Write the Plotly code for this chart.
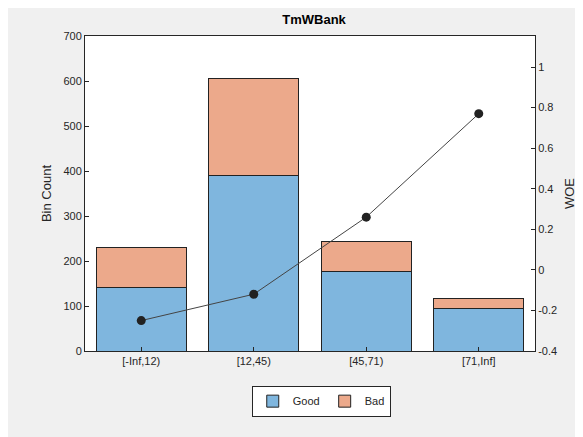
import plotly.graph_objects as go

bins = ["[-Inf,12)", "[12,45)", "[45,71)", "[71,Inf]"]
good = [141, 389, 176, 94]
bad = [90, 216, 67, 23]
woe = [-0.25, -0.12, 0.26, 0.77]

fig = go.Figure()
fig.add_trace(go.Bar(x=bins, y=good, name="Good", width=0.8,
                     marker=dict(color="#7fb6de", line=dict(color="#222", width=1))))
fig.add_trace(go.Bar(x=bins, y=bad, name="Bad", width=0.8,
                     marker=dict(color="#eca98b", line=dict(color="#222", width=1))))
fig.add_trace(go.Scatter(x=bins, y=woe, yaxis="y2", mode="lines+markers", showlegend=False,
                         line=dict(color="#444", width=1),
                         marker=dict(color="#222", size=9)))

axis_common = dict(showline=True, linecolor="#262626", ticks="inside",
                   tickcolor="#262626", ticklen=4, showgrid=False, zeroline=False,
                   tickfont=dict(size=11, color="#262626"))
fig.update_layout(
    barmode="stack",
    width=583, height=437,
    margin=dict(l=77, r=56, t=28, b=94),
    paper_bgcolor="#f0f0f0", plot_bgcolor="white",
    font=dict(family="Liberation Sans, Arial", color="#262626"),
    title=dict(text="<b>TmWBank</b>", x=0.525, xanchor="center", y=0.985, yanchor="top",
               font=dict(size=13, color="#000")),
    xaxis=dict(**axis_common, mirror=True),
    yaxis=dict(**axis_common, range=[0, 700], dtick=100,
               title=dict(text="Bin Count", font=dict(size=13), standoff=8)),
    yaxis2=dict(**axis_common, overlaying="y", side="right", range=[-0.4, 1.153],
                tickvals=[-0.4, -0.2, 0, 0.2, 0.4, 0.6, 0.8, 1],
                ticktext=["-0.4", "-0.2", "0", "0.2", "0.4", "0.6", "0.8", "1"],
                title=dict(text="WOE", font=dict(size=13), standoff=8)),
    legend=dict(orientation="h", x=0.525, xanchor="center", y=-0.11, yanchor="top",
                bgcolor="white", bordercolor="#262626", borderwidth=1,
                font=dict(size=11), traceorder="normal"),
    bargap=0.2,
)
fig.write_html("out.html")
